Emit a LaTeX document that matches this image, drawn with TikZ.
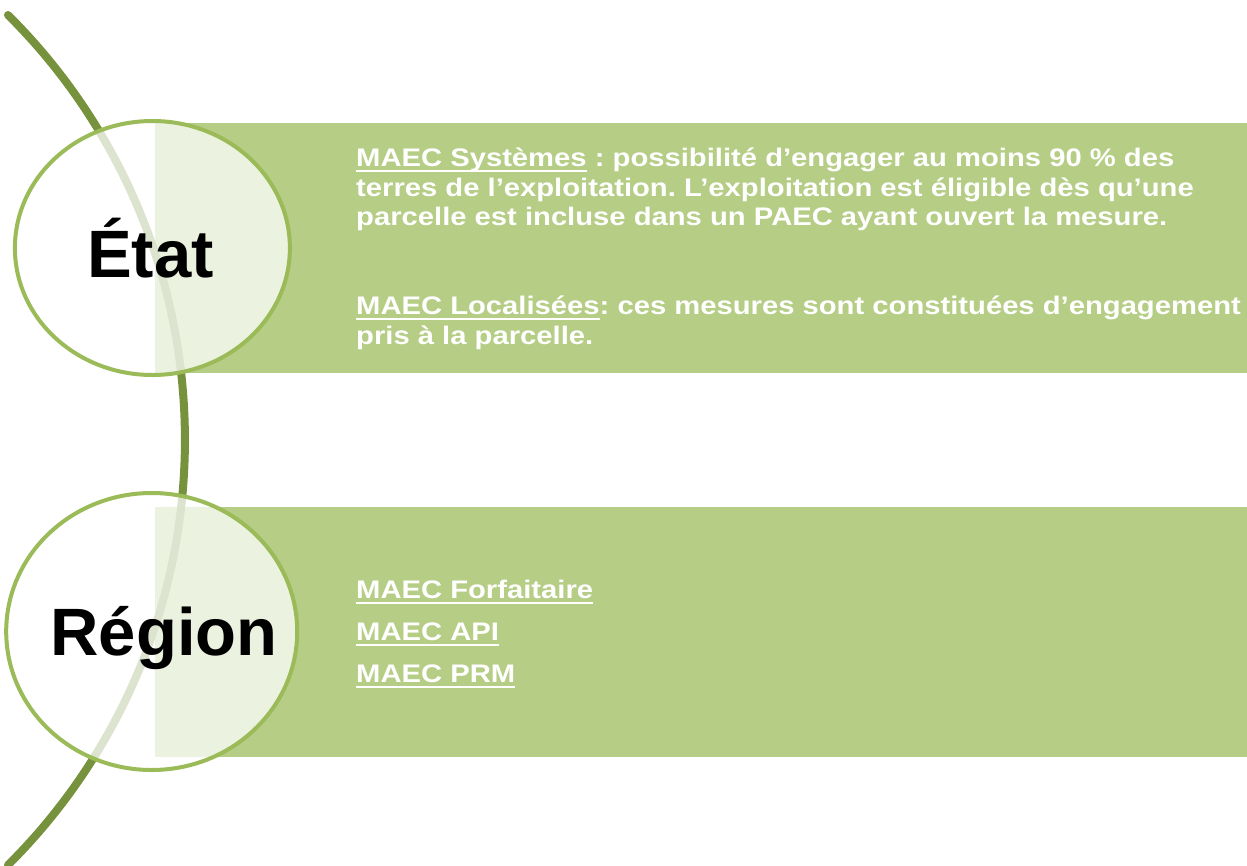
\documentclass[tikz,border=0pt]{standalone}
\usepackage{fontspec}
\setmainfont{Liberation Sans}
\newfontfamily\widefont[FakeStretch=1.15]{Liberation Sans}
\usetikzlibrary{shapes.geometric}
\definecolor{arcgreen}{HTML}{76923C}
\definecolor{boxgreen}{HTML}{B5CD85}
\definecolor{ringgreen}{HTML}{9BBB59}
\newsavebox\ulbox
\newcommand\myul[1]{\sbox\ulbox{#1}\rlap{\rule[-5.5pt]{\wd\ulbox}{1.8pt}}\usebox\ulbox}
\frenchspacing
\begin{document}
\begin{tikzpicture}[x=1pt,y=1pt,
  band/.style={fill=boxgreen, draw=none},
  arcline/.style={draw=arcgreen, line width=8pt, line cap=round},
  ring/.style={ellipse, draw=ringgreen, line width=4pt, fill=white, fill opacity=0.75, draw opacity=1, inner sep=0pt},
  bigtitle/.style={font=\fontsize{67}{72}\selectfont\bfseries, text=black, inner sep=0pt, anchor=base},
  smalltext/.style={font=\widefont\fontsize{25.4}{30}\selectfont\bfseries\frenchspacing, text=white, inner sep=0pt, anchor=base west},
  listtext/.style={font=\widefont\fontsize{25.4}{30}\selectfont\bfseries, text=white, inner sep=0pt, anchor=base west}]
\useasboundingbox (0,0) rectangle (1247,-865);
% bands
\fill[band] (155,-123) rectangle (1247,-373);
\fill[band] (155,-507) rectangle (1247,-757);
% arc
\draw[arcline] (8,-15) arc[start angle=45.2, end angle=-45.2, radius=599];
% rings
\node[ring, minimum width=275pt, minimum height=254pt] (etatring) at (152.4,-248) {};
\node[ring, minimum width=291pt, minimum height=277pt] (regionring) at (151.7,-631.5) {};
% titles
\node[bigtitle] (etat) at (150.5,-277) {État};
\node[bigtitle] (region) at (164,-655) {Région};
% block 1
\node[smalltext] (l1) at (356,-166.5) {\myul{MAEC Systèmes} : possibilité d’engager au moins 90 \% des};
\node[smalltext] (l2) at (356,-196.1) {terres de l’exploitation. L’exploitation est éligible dès qu’une};
\node[smalltext] (l3) at (356,-225.7) {parcelle est incluse dans un PAEC ayant ouvert la mesure.};
\node[smalltext] (l4) at (356,-314.5) {\myul{MAEC Localisées}: ces mesures sont constituées d’engagement};
\node[smalltext] (l5) at (356,-344.1) {pris à la parcelle.};
% block 2
\node[listtext] (r1) at (356,-598.5) {\myul{MAEC Forfaitaire}};
\node[listtext] (r2) at (356,-640.5) {\myul{MAEC API}};
\node[listtext] (r3) at (356,-682.5) {\myul{MAEC PRM}};
\end{tikzpicture}
\end{document}
